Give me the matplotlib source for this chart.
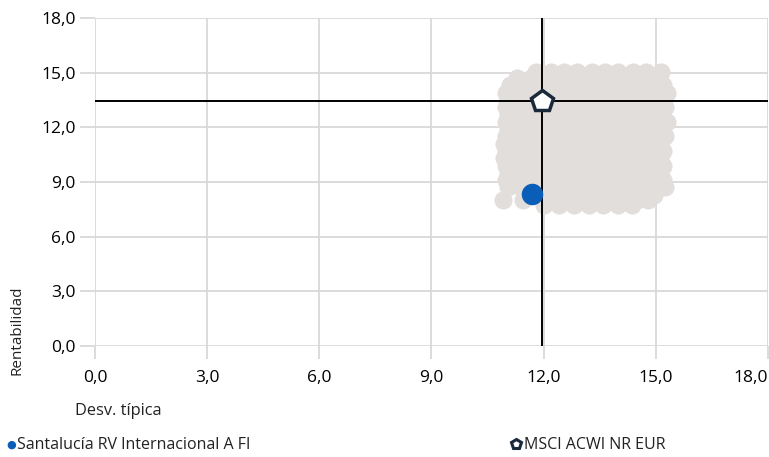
import matplotlib.pyplot as plt
from matplotlib.ticker import FuncFormatter

plt.rcParams['font.family'] = ['Open Sans', 'DejaVu Sans']

# peer funds cloud (desv. tipica, rentabilidad), one row per return level
cloud_rows = {
    15.05: [11.8, 12.2, 12.55, 12.9, 13.3, 13.65, 14.0, 14.4, 14.75, 15.15],
    14.7: [11.3, 11.65, 12.0, 12.4, 12.75, 13.1, 13.5, 13.85, 14.2, 14.6, 14.95],
    14.3: [11.1, 11.45, 11.8, 12.2, 12.55, 12.9, 13.3, 13.65, 14.0, 14.4, 14.75, 15.2],
    13.9: [11.0, 11.35, 11.7, 12.05, 12.45, 12.8, 13.15, 13.55, 13.9, 14.25, 14.6, 14.95, 15.3],
    13.5: [11.05, 11.4, 11.75, 12.15, 12.5, 12.85, 13.25, 13.6, 13.95, 14.35, 14.7, 15.05],
    13.1: [11.0, 11.35, 11.7, 12.05, 12.45, 12.8, 13.15, 13.55, 13.9, 14.25, 14.6, 14.95, 15.25],
    12.7: [11.05, 11.4, 11.75, 12.15, 12.5, 12.85, 13.25, 13.6, 13.95, 14.35, 14.7, 15.1],
    12.3: [11.0, 11.35, 11.7, 12.05, 12.45, 12.8, 13.15, 13.55, 13.9, 14.25, 14.6, 14.95, 15.3],
    11.9: [11.05, 11.4, 11.75, 12.15, 12.5, 12.85, 13.25, 13.6, 13.95, 14.35, 14.7, 15.1],
    11.5: [11.0, 11.35, 11.7, 12.05, 12.45, 12.8, 13.15, 13.55, 13.9, 14.25, 14.6, 14.95, 15.25],
    11.1: [10.95, 11.4, 11.75, 12.15, 12.5, 12.85, 13.25, 13.6, 13.95, 14.35, 14.7, 15.1],
    10.7: [11.0, 11.35, 11.7, 12.05, 12.45, 12.8, 13.15, 13.55, 13.9, 14.25, 14.6, 14.95, 15.2],
    10.3: [10.95, 11.4, 11.75, 12.15, 12.5, 12.85, 13.25, 13.6, 13.95, 14.35, 14.7, 15.1],
    9.9: [11.0, 11.35, 11.7, 12.05, 12.45, 12.8, 13.15, 13.55, 13.9, 14.25, 14.6, 14.95, 15.2],
    9.5: [11.05, 11.4, 11.75, 12.15, 12.5, 12.85, 13.25, 13.6, 13.95, 14.35, 14.7, 15.1],
    9.1: [11.0, 11.35, 11.7, 12.05, 12.45, 12.8, 13.15, 13.55, 13.9, 14.25, 14.6, 14.95, 15.2],
    8.7: [11.05, 11.4, 12.15, 12.5, 12.85, 13.25, 13.6, 13.95, 14.35, 14.7, 15.05, 15.25],
    8.3: [11.5, 12.05, 12.45, 12.8, 13.15, 13.55, 13.9, 14.25, 14.6, 14.95],
    8.0: [10.9, 11.45, 12.2, 12.6, 13.0, 13.4, 13.75, 14.1, 14.5, 14.8],
    7.75: [12.0, 12.4, 12.8, 13.2, 13.6, 14.0, 14.35],
}
cloud_x = []
cloud_y = []
for yv, xs in cloud_rows.items():
    for xv in xs:
        cloud_x.append(xv)
        cloud_y.append(yv)

fund_name = 'Santalucía RV Internacional A FI'
fund_x = 11.7
fund_y = 8.35

bench_name = 'MSCI ACWI NR EUR'
bench_x = 11.95
bench_y = 13.45

ticks = [0, 3, 6, 9, 12, 15, 18]

fig = plt.figure(figsize=(7.69, 4.57), dpi=100)
ax = fig.add_axes([0.1235, 0.2429, 0.8752, 0.7177])

ax.scatter(cloud_x, cloud_y, s=170, color='#E2DEDC', zorder=2, linewidths=0)
ax.axvline(bench_x, color='black', lw=1.4, zorder=3)
ax.axhline(bench_y, color='black', lw=1.4, zorder=3)
ax.scatter([fund_x], [fund_y], s=240, color='#0A5EB8', zorder=4, linewidths=0)
ax.plot([bench_x], [bench_y], marker='p', ms=16, mfc='white', mec='#1B2A3A',
        mew=2.5, ls='none', zorder=5)

ax.set_xlim(0, 18)
ax.set_ylim(0, 18)
ax.set_xticks(ticks)
ax.set_yticks(ticks)
fmt = FuncFormatter(lambda v, p: ('%.1f' % v).replace('.', ','))
ax.xaxis.set_major_formatter(fmt)
ax.yaxis.set_major_formatter(fmt)
ax.grid(True, color='#D9D9D9', lw=1.3, zorder=0)
ax.tick_params(axis='x', length=9, width=1.3, color='#D9D9D9', pad=8, labelsize=12.5)
ax.tick_params(axis='y', length=11, width=1.3, color='#D9D9D9', pad=3, labelsize=12.5)
for s in ax.spines.values():
    s.set_visible(False)
ax.set_axisbelow(True)
fig.canvas.draw()
last = ax.get_xticklabels()[-1]
last.set_horizontalalignment('right')
last.set_x(18.5)

fig.text(0.098, 0.101, 'Desv. típica', fontsize=11.8, color='#222222', va='center')
fig.text(0.022, 0.18, 'Rentabilidad', rotation=90, fontsize=11, color='#222222',
         va='bottom', ha='center')

# legend
fig.text(0.014, 0.027, '●', fontsize=8, color='#0A5EB8', va='center', ha='center')
fig.text(0.022, 0.027, fund_name, fontsize=11.5, color='#222222', va='center')
fig.lines.append(plt.Line2D([0.6705], [0.028], transform=fig.transFigure, marker='p',
                            ms=7, mfc='white', mec='#1B2A3A', mew=2.2, ls='none'))
fig.text(0.682, 0.027, bench_name, fontsize=11.5, color='#222222', va='center')

fig.savefig('out.png', dpi=100)
